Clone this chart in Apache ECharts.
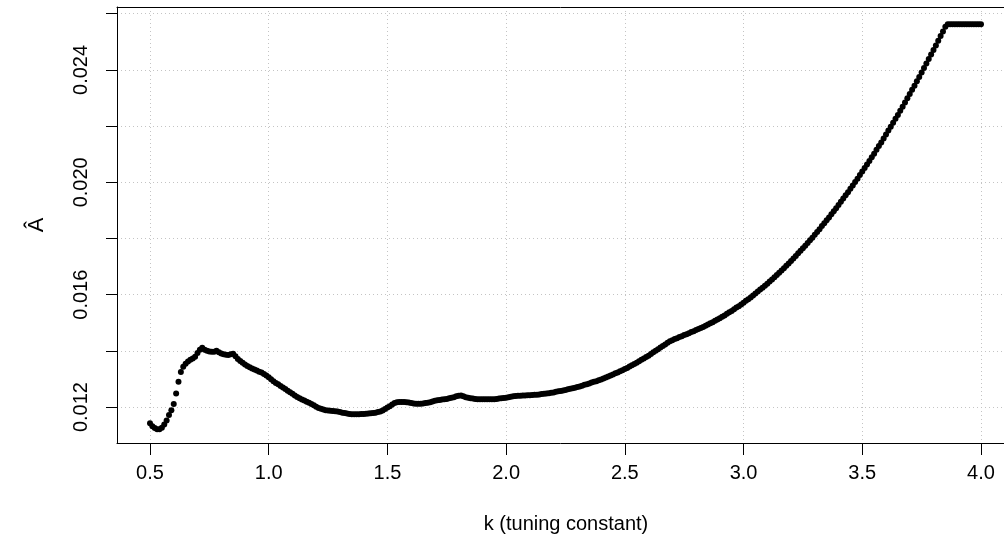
<!DOCTYPE html>
<html><head><meta charset="utf-8">
<script src="https://cdn.jsdelivr.net/npm/echarts@6/dist/echarts.min.js"></script>
<style>html,body{margin:0;padding:0;background:#fff}#c{width:1004px;height:543px}</style>
</head><body><div id="c"></div>
<script>
// k grid: 0.50 .. 4.00 in steps of 0.01
const kStart = 0.50;
const kStep = 0.01;
// A-hat values, one per k
const aHat = [
0.01142,0.01132,0.01125,0.01121,0.01121,0.01126,0.01138,0.01152,0.01172,0.01189,
0.01211,0.01248,0.01290,0.01325,0.01343,0.01354,0.01362,0.01368,0.01373,0.01379,
0.01392,0.01404,0.01411,0.01404,0.01400,0.01398,0.01397,0.01397,0.01400,0.01395,
0.01391,0.01388,0.01386,0.01385,0.01388,0.01390,0.01381,0.01371,0.01364,0.01358,
0.01351,0.01346,0.01342,0.01337,0.01334,0.01330,0.01326,0.01323,0.01318,0.01312,
0.01306,0.01299,0.01292,0.01286,0.01281,0.01275,0.01270,0.01264,0.01258,0.01253,
0.01247,0.01241,0.01236,0.01231,0.01227,0.01223,0.01219,0.01215,0.01211,0.01206,
0.01201,0.01197,0.01194,0.01191,0.01189,0.01188,0.01187,0.01186,0.01185,0.01184,
0.01182,0.01180,0.01179,0.01177,0.01175,0.01174,0.01174,0.01174,0.01174,0.01175,
0.01175,0.01176,0.01177,0.01178,0.01179,0.01180,0.01182,0.01184,0.01188,0.01193,
0.01198,0.01203,0.01209,0.01214,0.01217,0.01218,0.01218,0.01218,0.01217,0.01216,
0.01214,0.01213,0.01212,0.01212,0.01212,0.01213,0.01214,0.01215,0.01217,0.01220,
0.01222,0.01224,0.01225,0.01227,0.01228,0.01229,0.01231,0.01233,0.01235,0.01238,
0.01240,0.01241,0.01238,0.01235,0.01233,0.01231,0.01230,0.01229,0.01228,0.01228,
0.01228,0.01228,0.01228,0.01228,0.01228,0.01228,0.01229,0.01230,0.01231,0.01232,
0.01233,0.01235,0.01237,0.01238,0.01239,0.01240,0.01240,0.01241,0.01241,0.01242,
0.01242,0.01243,0.01244,0.01244,0.01245,0.01246,0.01247,0.01248,0.01249,0.01251,
0.01252,0.01254,0.01256,0.01257,0.01259,0.01261,0.01263,0.01265,0.01267,0.01269,
0.01271,0.01273,0.01276,0.01279,0.01281,0.01284,0.01287,0.01290,0.01292,0.01295,
0.01298,0.01302,0.01305,0.01309,0.01312,0.01316,0.01320,0.01323,0.01327,0.01331,
0.01335,0.01339,0.01344,0.01349,0.01353,0.01358,0.01363,0.01368,0.01373,0.01378,
0.01383,0.01389,0.01395,0.01400,0.01406,0.01412,0.01417,0.01423,0.01429,0.01434,
0.01438,0.01442,0.01445,0.01449,0.01452,0.01456,0.01459,0.01463,0.01467,0.01470,
0.01474,0.01478,0.01481,0.01485,0.01489,0.01494,0.01498,0.01502,0.01507,0.01512,
0.01516,0.01521,0.01526,0.01532,0.01537,0.01542,0.01548,0.01554,0.01559,0.01565,
0.01571,0.01578,0.01584,0.01590,0.01597,0.01604,0.01611,0.01618,0.01625,0.01632,
0.01639,0.01647,0.01654,0.01662,0.01670,0.01678,0.01686,0.01694,0.01703,0.01711,
0.01720,0.01729,0.01738,0.01747,0.01756,0.01765,0.01774,0.01784,0.01794,0.01803,
0.01813,0.01823,0.01833,0.01844,0.01854,0.01865,0.01875,0.01886,0.01897,0.01908,
0.01919,0.01931,0.01942,0.01954,0.01965,0.01977,0.01989,0.02001,0.02013,0.02026,
0.02038,0.02051,0.02063,0.02076,0.02089,0.02102,0.02116,0.02129,0.02142,0.02156,
0.02170,0.02184,0.02198,0.02212,0.02226,0.02240,0.02255,0.02269,0.02284,0.02299,
0.02314,0.02329,0.02344,0.02360,0.02375,0.02391,0.02407,0.02423,0.02439,0.02455,
0.02471,0.02487,0.02504,0.02521,0.02537,0.02554,0.02563,0.02563,0.02563,0.02563,
0.02563,0.02563,0.02563,0.02563,0.02563,0.02563,0.02563,0.02563,0.02563,0.02563,
0.02563
];
const xTicks = [0.5, 1.0, 1.5, 2.0, 2.5, 3.0, 3.5, 4.0];
const yTicks = [0.012, 0.014, 0.016, 0.018, 0.020, 0.022, 0.024, 0.026];
const yLabels = [0.012, 0.016, 0.020, 0.024];
const xTitle = 'k (tuning constant)';
const yTitle = 'Â';

const points = aHat.map((v, i) => [Math.round((kStart + i * kStep) * 100) / 100, v]);
const FONT = "'Liberation Sans', Arial, Helvetica, sans-serif";
const gridLine = {show: true, lineStyle: {color: '#c4c4c4', type: [1, 3], width: 1}};
const boxLine = {show: true, onZero: false, lineStyle: {color: '#000', width: 1}};
const X_MIN = 0.361, X_MAX = 4.097;

const chart = echarts.init(document.getElementById('c'), null, {renderer: 'canvas'});
chart.setOption({
  animation: false,
  backgroundColor: '#ffffff',
  grid: {left: 117, top: 7, right: 0, bottom: 100, show: false, containLabel: false},
  xAxis: [{
    type: 'value', min: X_MIN, max: X_MAX, position: 'bottom',
    axisLine: boxLine,
    axisTick: {show: true, inside: false, length: 12, customValues: xTicks, lineStyle: {color: '#000', width: 1}},
    axisLabel: {customValues: xTicks, formatter: v => v.toFixed(1), margin: 20, fontSize: 20, color: '#000', fontFamily: FONT},
    splitLine: gridLine
  }, {
    type: 'value', min: X_MIN, max: X_MAX, position: 'top',
    axisLine: boxLine, axisTick: {show: false}, axisLabel: {show: false}, splitLine: {show: false}
  }],
  yAxis: {
    type: 'value', min: 0.01072, max: 0.02624,
    name: yTitle, nameLocation: 'middle', nameGap: 69, nameRotate: 90,
    nameTextStyle: {fontFamily: FONT, fontSize: 22, color: '#000'},
    axisLine: boxLine,
    axisTick: {show: true, inside: false, length: 11, customValues: yTicks, lineStyle: {color: '#000', width: 1}},
    axisLabel: {customValues: yLabels, formatter: v => v.toFixed(3), rotate: 90, margin: 26, fontSize: 20, color: '#000', fontFamily: FONT},
    splitLine: gridLine
  },
  graphic: [{
    type: 'text', x: 566, y: 514,
    style: {text: xTitle, fontFamily: FONT, fontSize: 20, fill: '#000', align: 'center', verticalAlign: 'top'}
  }],
  series: [{
    type: 'scatter', data: points, symbol: 'circle', symbolSize: 6,
    itemStyle: {color: '#000', opacity: 1}, silent: true
  }]
});
</script></body></html>
